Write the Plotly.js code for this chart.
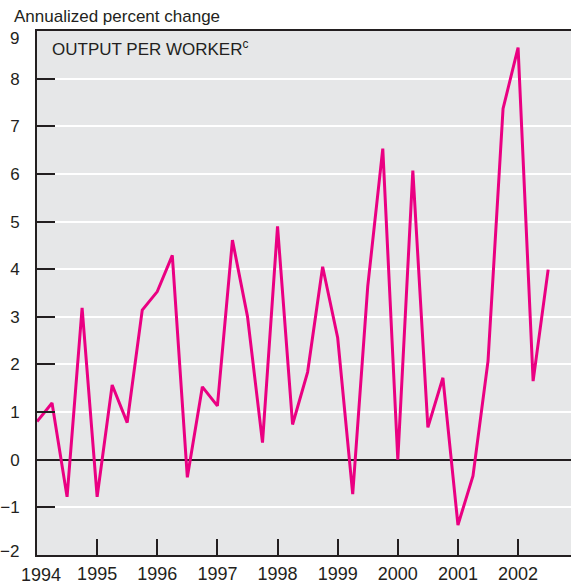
<!DOCTYPE html>
<html>
<head>
<meta charset="utf-8">
<script src="https://cdn.plot.ly/plotly-3.0.1.min.js"></script>
<style>html,body{margin:0;padding:0;background:#fff;}#chart{width:571px;height:584px;}</style>
</head>
<body>
<div id="chart"></div>
<script>
const quarters = [1994.00,1994.25,1994.50,1994.75,1995.00,1995.25,1995.50,1995.75,
  1996.00,1996.25,1996.50,1996.75,1997.00,1997.25,1997.50,1997.75,
  1998.00,1998.25,1998.50,1998.75,1999.00,1999.25,1999.50,1999.75,
  2000.00,2000.25,2000.50,2000.75,2001.00,2001.25,2001.50,2001.75,
  2002.00,2002.25,2002.50];
const outputPerWorker = [0.80,1.19,-0.78,3.19,-0.78,1.57,0.78,3.14,
  3.53,4.29,-0.37,1.53,1.13,4.61,3.01,0.36,
  4.90,0.74,1.84,4.05,2.56,-0.72,3.64,6.53,
  0.00,6.07,0.68,1.72,-1.37,-0.34,2.07,7.37,
  8.65,1.65,3.99];
const yearTicks = [1994,1995,1996,1997,1998,1999,2000,2001,2002];
const yearLabels = ['1994','1995','1996','1997','1998','1999','2000','2001','2002'];
const yTicks = [-2,-1,0,1,2,3,4,5,6,7,8,9];
const yLabels = ['\u22122','\u22121','0','1','2','3','4','5','6','7','8','9'];

const ink = '#231F20';
const narrow = '"Liberation Sans Narrow", "Arial Narrow", sans-serif';

// Edge labels (first/last) are drawn as annotations nudged inward, as in the reference
const yTickText = yLabels.map((t, i) => (i === 0 || i === yLabels.length - 1) ? ' ' : t);
const xTickText = yearLabels.map((t, i) => i === 0 ? ' ' : t);

const annotations = [
  {text: 'Annualized percent change', xref: 'paper', yref: 'paper', x: 0, y: 1,
   xanchor: 'left', yanchor: 'bottom', xshift: -25, yshift: 3, showarrow: false,
   font: {family: narrow, size: 17, color: ink}},
  {text: 'OUTPUT PER WORKER<sup>c</sup>', xref: 'paper', yref: 'paper', x: 0, y: 1,
   xanchor: 'left', yanchor: 'top', xshift: 13, yshift: -4, showarrow: false,
   font: {family: 'Liberation Sans, Arial, sans-serif', size: 17, color: ink}},
  {text: yLabels[yLabels.length - 1], xref: 'paper', yref: 'y', x: 0, y: yTicks[yTicks.length - 1],
   xanchor: 'right', yanchor: 'middle', xshift: -16, yshift: -7, showarrow: false,
   font: {family: narrow, size: 17, color: ink}},
  {text: yLabels[0], xref: 'paper', yref: 'y', x: 0, y: yTicks[0],
   xanchor: 'right', yanchor: 'middle', xshift: -16, yshift: 4, showarrow: false,
   font: {family: narrow, size: 17, color: ink}},
  {text: yearLabels[0], xref: 'x', yref: 'paper', x: yearTicks[0], y: 0,
   xanchor: 'center', yanchor: 'top', xshift: 4, yshift: -8, showarrow: false,
   font: {family: narrow, size: 18, color: ink}}
];

Plotly.newPlot('chart', [{
  x: quarters, y: outputPerWorker, type: 'scatter', mode: 'lines',
  line: {color: '#EA0082', width: 3}, hoverinfo: 'skip'
}], {
  width: 571, height: 584,
  margin: {l: 37, r: 0, t: 31, b: 29, pad: 0},
  paper_bgcolor: '#ffffff', plot_bgcolor: '#E6E7E8',
  showlegend: false,
  xaxis: {
    range: [1994, 2002.88], tickvals: yearTicks, ticktext: xTickText,
    ticks: 'inside', ticklen: 16, tickwidth: 2, tickcolor: ink,
    showline: true, linecolor: ink, linewidth: 2, mirror: true,
    showgrid: false, zeroline: false,
    tickfont: {family: narrow, size: 18, color: ink},
    ticklabelstandoff: 1
  },
  yaxis: {
    range: [-2, 9], tickvals: yTicks, ticktext: yTickText,
    ticks: 'inside', ticklen: 18, tickwidth: 2, tickcolor: ink,
    showline: true, linecolor: ink, linewidth: 2,
    showgrid: true, gridcolor: '#ffffff', gridwidth: 2,
    zeroline: true, zerolinecolor: ink, zerolinewidth: 2,
    tickfont: {family: narrow, size: 17, color: ink},
    ticklabelstandoff: 12
  },
  annotations: annotations
}, {staticPlot: true});
</script>
</body>
</html>
